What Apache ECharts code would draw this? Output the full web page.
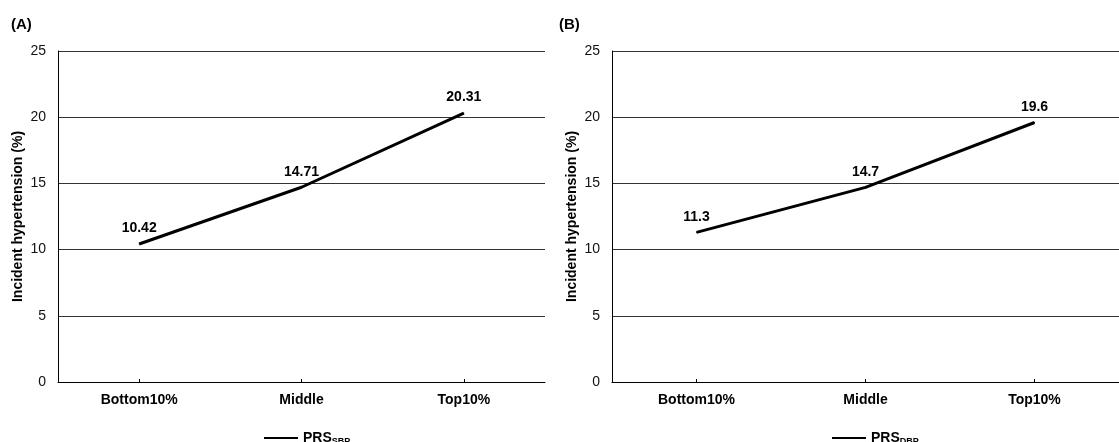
<!DOCTYPE html>
<html>
<head>
<meta charset="utf-8">
<script src="https://cdn.jsdelivr.net/npm/echarts@6/dist/echarts.min.js"></script>
<style>
html,body{margin:0;padding:0;background:#fff;}
#c{width:1119px;height:442px;}
</style>
</head>
<body>
<div id="c"></div>
<script>
const categories = ['Bottom10%', 'Middle', 'Top10%'];
const valuesA = [10.42, 14.71, 20.31];
const valuesB = [11.3, 14.7, 19.6];
const labelsA = ['10.42', '14.71', '20.31'];
const labelsB = ['11.3', '14.7', '19.6'];
const yTicks = [0, 5, 10, 15, 20, 25];
const panelTitles = ['(A)', '(B)'];
const seriesNames = ['PRS_SBP', 'PRS_DBP'];
const yName = 'Incident hypertension (%)';

const FONT = 'Liberation Sans, Arial, sans-serif';
const chart = echarts.init(document.getElementById('c'), null, {renderer: 'canvas'});

function xAxis(gi) {
  return {
    type: 'category', gridIndex: gi, data: categories, boundaryGap: true,
    axisLine: {lineStyle: {color: '#000', width: 1}},
    axisTick: {show: true, alignWithLabel: true, inside: true, length: 3, lineStyle: {color: '#000'}},
    axisLabel: {color: '#000', fontFamily: FONT, fontSize: 14, fontWeight: 'bold', margin: 11}
  };
}
function yAxis(gi) {
  return {
    type: 'value', gridIndex: gi, min: yTicks[0], max: yTicks[yTicks.length - 1], interval: yTicks[1] - yTicks[0],
    name: yName, nameLocation: 'middle', nameGap: 33,
    nameTextStyle: {color: '#000', fontFamily: FONT, fontSize: 14, fontWeight: 'bold'},
    axisLine: {show: true, lineStyle: {color: '#000', width: 1}},
    axisTick: {show: false},
    axisLabel: {color: '#111', fontFamily: FONT, fontSize: 14, margin: 12},
    splitLine: {show: true, lineStyle: {color: '#333', width: 1}}
  };
}
function series(name, values, labels, gi) {
  return {
    name: name, type: 'line', xAxisIndex: gi, yAxisIndex: gi,
    data: values, symbol: 'circle', symbolSize: 1, showSymbol: true, smooth: false,
    lineStyle: {color: '#000', width: 3},
    itemStyle: {color: '#000'},
    label: {
      show: true, position: 'top', distance: 8,
      formatter: p => labels[p.dataIndex],
      color: '#000', fontFamily: FONT, fontSize: 14, fontWeight: 'bold'
    }
  };
}
function legend(idx, left) {
  return {
    data: [seriesNames[idx]], left: left, top: 426, orient: 'horizontal',
    icon: 'rect', itemWidth: 34, itemHeight: 2, itemGap: 10,
    formatter: () => idx === 0 ? '{a|PRS}{b|SBP}' : '{a|PRS}{b|DBP}',
    textStyle: {
      color: '#000', fontFamily: FONT,
      rich: {
        a: {fontSize: 14, fontWeight: 'bold', fontFamily: FONT, color: '#000'},
        b: {fontSize: 9, fontWeight: 'bold', fontFamily: FONT, color: '#000', padding: [7, 0, 0, 0]}
      }
    }
  };
}

chart.setOption({
  animation: false,
  backgroundColor: '#fff',
  title: [
    {text: panelTitles[0], left: 6, top: 12, textStyle: {fontFamily: FONT, fontSize: 15, fontWeight: 'bold', color: '#000'}},
    {text: panelTitles[1], left: 554, top: 12, textStyle: {fontFamily: FONT, fontSize: 15, fontWeight: 'bold', color: '#000'}}
  ],
  grid: [
    {left: 58, top: 51, width: 487, height: 331, containLabel: false},
    {left: 612, top: 51, width: 508, height: 331, containLabel: false}
  ],
  xAxis: [xAxis(0), xAxis(1)],
  yAxis: [yAxis(0), yAxis(1)],
  legend: [legend(0, 259), legend(1, 827)],
  series: [series(seriesNames[0], valuesA, labelsA, 0), series(seriesNames[1], valuesB, labelsB, 1)]
});
</script>
</body>
</html>
